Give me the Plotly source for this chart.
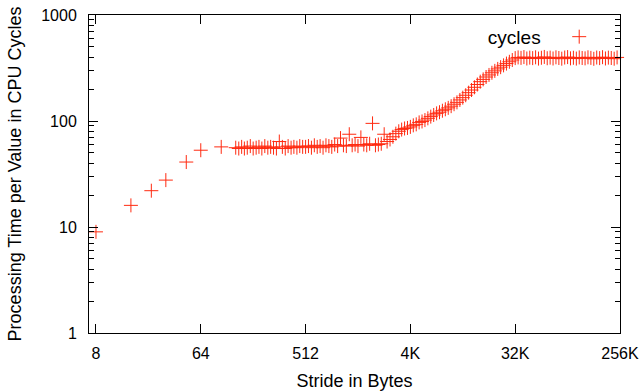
import plotly.graph_objects as go

# Stride in bytes
strides = [8, 16, 24, 32, 48, 64, 96,
           128, 136, 144, 152, 161, 171, 181, 192, 203, 215, 228, 242,
           256, 271, 287, 304, 323, 342, 362, 384, 406, 431, 456, 483,
           512, 542, 575, 609, 645, 683, 724, 767, 813, 861, 912, 967,
           1024, 1085, 1149, 1218, 1290, 1367, 1448, 1534, 1625, 1722, 1825, 1933,
           2048, 2170, 2299, 2435, 2580, 2734, 2896, 3069, 3251, 3444, 3649, 3866,
           4096, 4340, 4598, 4871, 5161, 5468, 5793, 6137, 6502, 6889, 7298, 7732,
           8192, 8679, 9195, 9742, 10321, 10935, 11585, 12274, 13004, 13777, 14596, 15464,
           16384, 17358, 18390, 19484, 20643, 21870, 23170, 24548, 26008, 27554, 29193, 30929,
           32768, 34716, 36781, 38968, 41285, 43740, 46341, 49097, 52016, 55109, 58386, 61858,
           65536, 69433, 73562, 77936, 82570, 87480, 92682, 98193, 104032, 110218, 116772, 123716,
           131072, 138866, 147123, 155872, 165140, 174960, 185364, 196386, 208064, 220436, 233544, 247432,
           262144]

# Processing time per value in CPU cycles
cycles = [9, 16, 22, 27.7, 41, 53, 57,
          56, 55, 57, 55, 56, 58, 55, 56, 57, 55, 58, 56,
          57, 56, 55, 64, 57, 55, 58, 56, 57, 56, 58, 57,
          57, 58, 56, 59, 57, 58, 56, 59, 58, 57, 60, 58,
          69, 59, 58, 75, 59, 60, 58, 70, 60, 59, 61, 95,
          59, 60, 61, 75, 64, 67, 71, 76, 80, 83, 85, 86,
          88, 91, 93, 97, 99, 102, 106, 110, 114, 118, 121, 125,
          129, 133, 138, 144, 150, 158, 166, 175, 185, 196, 208, 221,
          235, 247, 260, 272, 285, 297, 310, 322, 335, 348, 362, 376,
          392, 398, 394, 401, 389, 396, 392, 399, 388, 395, 402, 391,
          396, 389, 399, 393, 387, 397, 401, 390, 395, 388, 398, 393,
          390, 399, 394, 386, 397, 392, 400, 389, 396, 393, 387, 398,
          395]

x_tickvals = [8, 64, 512, 4096, 32768, 262144]
x_ticktext = ["8", "64", "512", "4K", "32K", "256K"]
y_tickvals = [1, 10, 100, 1000]
y_ticktext = ["1", "10", "100", "1000"]
y_minor = [m * d for d in (1, 10, 100) for m in range(2, 10)]

RED = "#ff2a10"
FONT = "Liberation Sans, Arial, sans-serif"

fig = go.Figure()
fig.add_trace(go.Scatter(
    x=strides, y=cycles, mode="markers", name=" ",
    marker=dict(symbol="cross-thin", size=10, color=RED,
                line=dict(color=RED, width=1)),
    cliponaxis=False, showlegend=True,
))

axis_common = dict(showline=True, linecolor="black", linewidth=1, mirror="allticks",
                   ticks="inside", tickcolor="black", showgrid=False, zeroline=False,
                   automargin=False, tickfont=dict(size=16))

fig.update_layout(
    width=642, height=391,
    margin=dict(l=89, r=22, t=15, b=58),
    paper_bgcolor="white", plot_bgcolor="white",
    font=dict(family=FONT, size=15, color="black"),
    xaxis=dict(type="log", range=[0.843, 5.4185], tickvals=x_tickvals, ticktext=x_ticktext,
               ticklen=9, ticklabelstandoff=6,
               title=dict(text="Stride in Bytes", standoff=14), **axis_common),
    yaxis=dict(type="log", range=[0, 3], tickvals=y_tickvals, ticktext=y_ticktext,
               ticklen=9, ticklabelstandoff=8,
               minor=dict(tickvals=y_minor, ticks="inside", ticklen=5, tickcolor="black"),
               title=dict(text="Processing Time per Value in CPU Cycles", standoff=14), **axis_common),
    legend=dict(x=0.979, y=0.985, xanchor="right", yanchor="top", bgcolor="rgba(0,0,0,0)",
                title=dict(text="cycles\u00a0\u00a0", side="left"), font=dict(size=16),
                itemwidth=30),
)

fig.write_html("out.html", config={"displayModeBar": False},
               post_script="document.body.style.margin='0';")
